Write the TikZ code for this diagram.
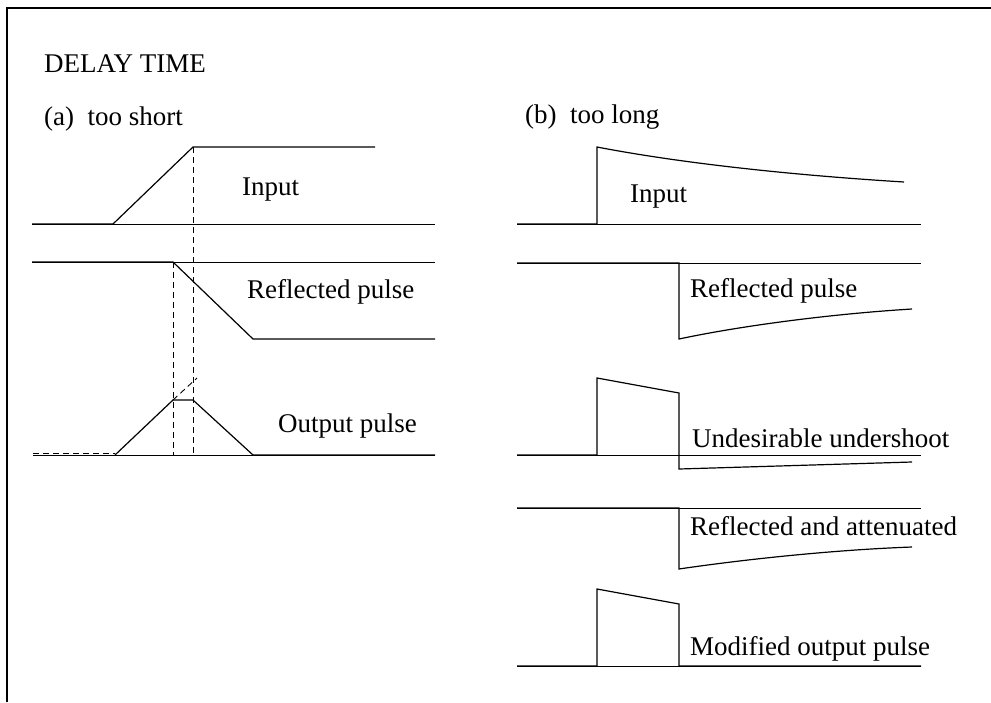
\documentclass[tikz,border=0pt]{standalone}
\usepackage{fontspec}
\setmainfont{Liberation Serif}
\usepackage{tikz}
\usepackage{xcolor}

\begin{document}
\begin{tikzpicture}[x=1pt,y=-1pt,
  every node/.style={font=\fontsize{27}{32}\selectfont,inner sep=0pt,anchor=base west},
  signal/.style={line width=1.2pt,line join=miter},
  axis/.style={line width=0.8pt},
  guide/.style={line width=0.9pt,dash pattern=on 6pt off 4pt}]
\useasboundingbox (0,0) rectangle (991,702);
\draw[line width=2pt] (7,702) -- (7,8) -- (991,8);
\node (title) at (44,72) {DELAY TIME};
\node (shorthead) at (44,125) {(a)~~too short};
\node (longhead) at (525,123) {(b)~~too long};
\draw[axis] (32,224) -- (435,224);
\draw[signal] (32,224) -- (113,224) -- (193,147) -- (375,147);
\node (ainput) at (242,195) {Input};
\draw[axis] (32,262) -- (435,262);
\draw[signal] (32,262) -- (173,262) -- (253,339) -- (435,339);
\node (arefl) at (247,298) {Reflected pulse};
\draw[axis] (33,455) -- (435,455);
\draw[guide] (33,453.5) -- (115,453.5);
\draw[signal] (115,455) -- (173,400) -- (193,400) -- (253,455) -- (435,455);
\draw[guide] (173,400) -- (197,378);
\node (aout) at (278,432) {Output pulse};
\draw[guide] (193,147) -- (193,455);
\draw[guide] (173,262) -- (173,455);
\draw[axis] (517,224) -- (921,224);
\draw[signal] (517,224) -- (597,224) -- (597,147) .. controls (680,163) and (790,175) .. (904,182);
\node (binput) at (630,202) {Input};
\draw[axis] (517,263) -- (921,263);
\draw[signal] (517,263) -- (679,263) -- (679,339) .. controls (740,326) and (830,314) .. (912,309);
\node (brefl) at (690,297) {Reflected pulse};
\draw[axis] (517,455) -- (921,455);
\draw[signal] (517,455) -- (597,455) -- (597,378) -- (679,393) -- (679,469) -- (912,462);
\node (bunder) at (692,447) {Undesirable undershoot};
\draw[axis] (517,508) -- (921,508);
\draw[signal] (517,508) -- (679,508) -- (679,569) .. controls (740,560) and (830,550) .. (912,547);
\node (battn) at (690,535) {Reflected and attenuated};
\draw[axis] (517,666) -- (921,666);
\draw[signal] (517,666) -- (597,666) -- (597,589) -- (679,604) -- (679,666) -- (921,666);
\node (bmod) at (690,655) {Modified output pulse};
\end{tikzpicture}
\end{document}
